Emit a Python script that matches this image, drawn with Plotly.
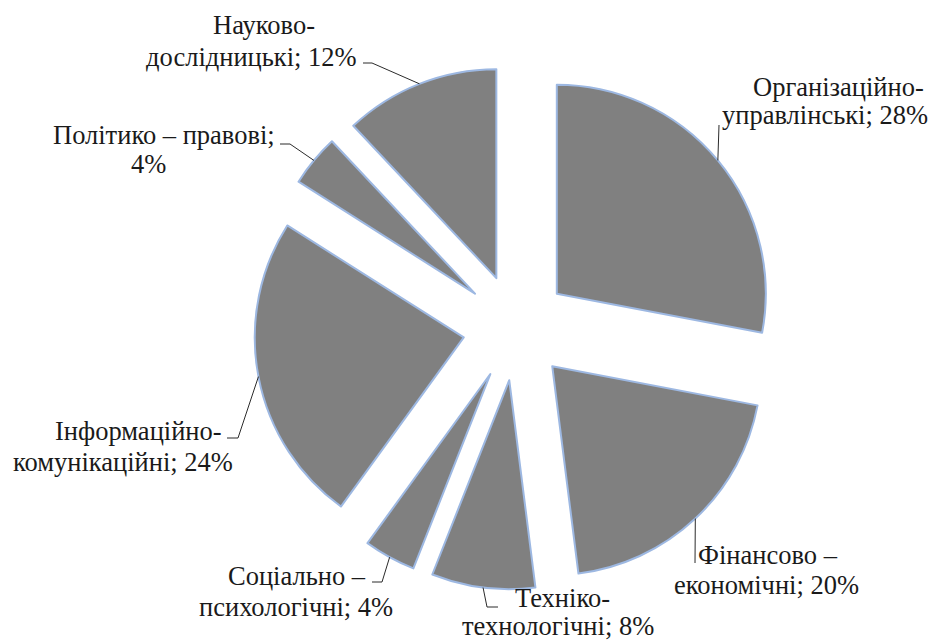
import math
import plotly.graph_objects as go

# Structure of research areas (shares, %)
categories = [
    "Організаційно-управлінські",
    "Фінансово – економічні",
    "Техніко-технологічні",
    "Соціально – психологічні",
    "Інформаційно-комунікаційні",
    "Політико – правові",
    "Науково-дослідницькі",
]
shares = [28, 20, 8, 4, 24, 4, 12]

# Data label wording, one entry per line; {v} takes the share
label_lines = [
    ["Організаційно-", "управлінські; {v}%"],
    ["Фінансово –", "економічні; {v}%"],
    ["Техніко-", "технологічні; {v}%"],
    ["Соціально –", "психологічні; {v}%"],
    ["Інформаційно-", "комунікаційні; {v}%"],
    ["Політико – правові;", "{v}%"],
    ["Науково-", "дослідницькі; {v}%"],
]

# ---- layout (pixels) ----
W, H = 933, 640
PULL = 0.254
DOM_X = (253.8, 778.0)
DOM_Y = (65.4, 589.6)

# centre of every label line
line_pos = [
    [(838, 87), (824.5, 115)],
    [(767.5, 555), (766.5, 585)],
    [(562.5, 598), (557.5, 626)],
    [(297, 575.5), (296, 606.5)],
    [(138, 430.5), (123.5, 461.5)],
    [(163.5, 135), (148.5, 163.5)],
    [(263.5, 25), (251, 57)],
]
# leader-line knees, from the slice edge towards its label
leader_knees = [
    [(719, 125)],
    [(695, 563)],
    [(487, 607), (498, 607)],
    [(382, 582), (372, 582)],
    [(238, 438), (227, 438)],
    [(290, 144), (280, 144)],
    [(372, 63), (363, 63)],
]

FILL = "#808080"
EDGE = "#9DB8E2"
TEXT = "#1a1a1a"
FONT = "Liberation Serif, Times New Roman, serif"
FONT_SIZE = 26.5


def px(x):
    return x / W


def py(y):
    return 1 - y / H


fig = go.Figure(
    go.Pie(
        labels=categories,
        values=shares,
        sort=False,
        direction="clockwise",
        rotation=0,
        pull=[PULL] * len(shares),
        marker=dict(colors=[FILL] * len(shares), line=dict(color=EDGE, width=2)),
        textinfo="none",
        hoverinfo="label+percent",
        showlegend=False,
        domain=dict(x=[px(DOM_X[0]), px(DOM_X[1])], y=[py(DOM_Y[1]), py(DOM_Y[0])]),
    )
)

# pie geometry, same rule plotly uses to size a pulled pie
min_dim = min(DOM_X[1] - DOM_X[0], DOM_Y[1] - DOM_Y[0])
radius = min_dim / (2 + 2 * PULL)
cx = (DOM_X[0] + DOM_X[1]) / 2
cy = (DOM_Y[0] + DOM_Y[1]) / 2

total = sum(shares)
shapes = []
annotations = []
cum = 0
for i, v in enumerate(shares):
    theta = 2 * math.pi * (cum + v / 2) / total
    cum += v
    reach = radius * (1 + PULL)
    start = (cx + reach * math.sin(theta), cy - reach * math.cos(theta))
    pts = [start] + leader_knees[i]
    for (x0, y0), (x1, y1) in zip(pts[:-1], pts[1:]):
        shapes.append(dict(
            type="line", xref="paper", yref="paper",
            x0=px(x0), y0=py(y0), x1=px(x1), y1=py(y1),
            line=dict(color="#2b2b2b", width=1),
        ))
    for tmpl, (lx, ly) in zip(label_lines[i], line_pos[i]):
        annotations.append(dict(
            text=tmpl.format(v=v),
            x=px(lx), y=py(ly), xref="paper", yref="paper",
            xanchor="center", yanchor="middle",
            showarrow=False, borderpad=0,
            font=dict(family=FONT, size=FONT_SIZE, color=TEXT),
        ))

fig.update_layout(
    width=W, height=H,
    margin=dict(l=0, r=0, t=0, b=0),
    paper_bgcolor="white",
    plot_bgcolor="white",
    font=dict(family=FONT),
    shapes=shapes,
    annotations=annotations,
)

fig.write_html("out.html")
